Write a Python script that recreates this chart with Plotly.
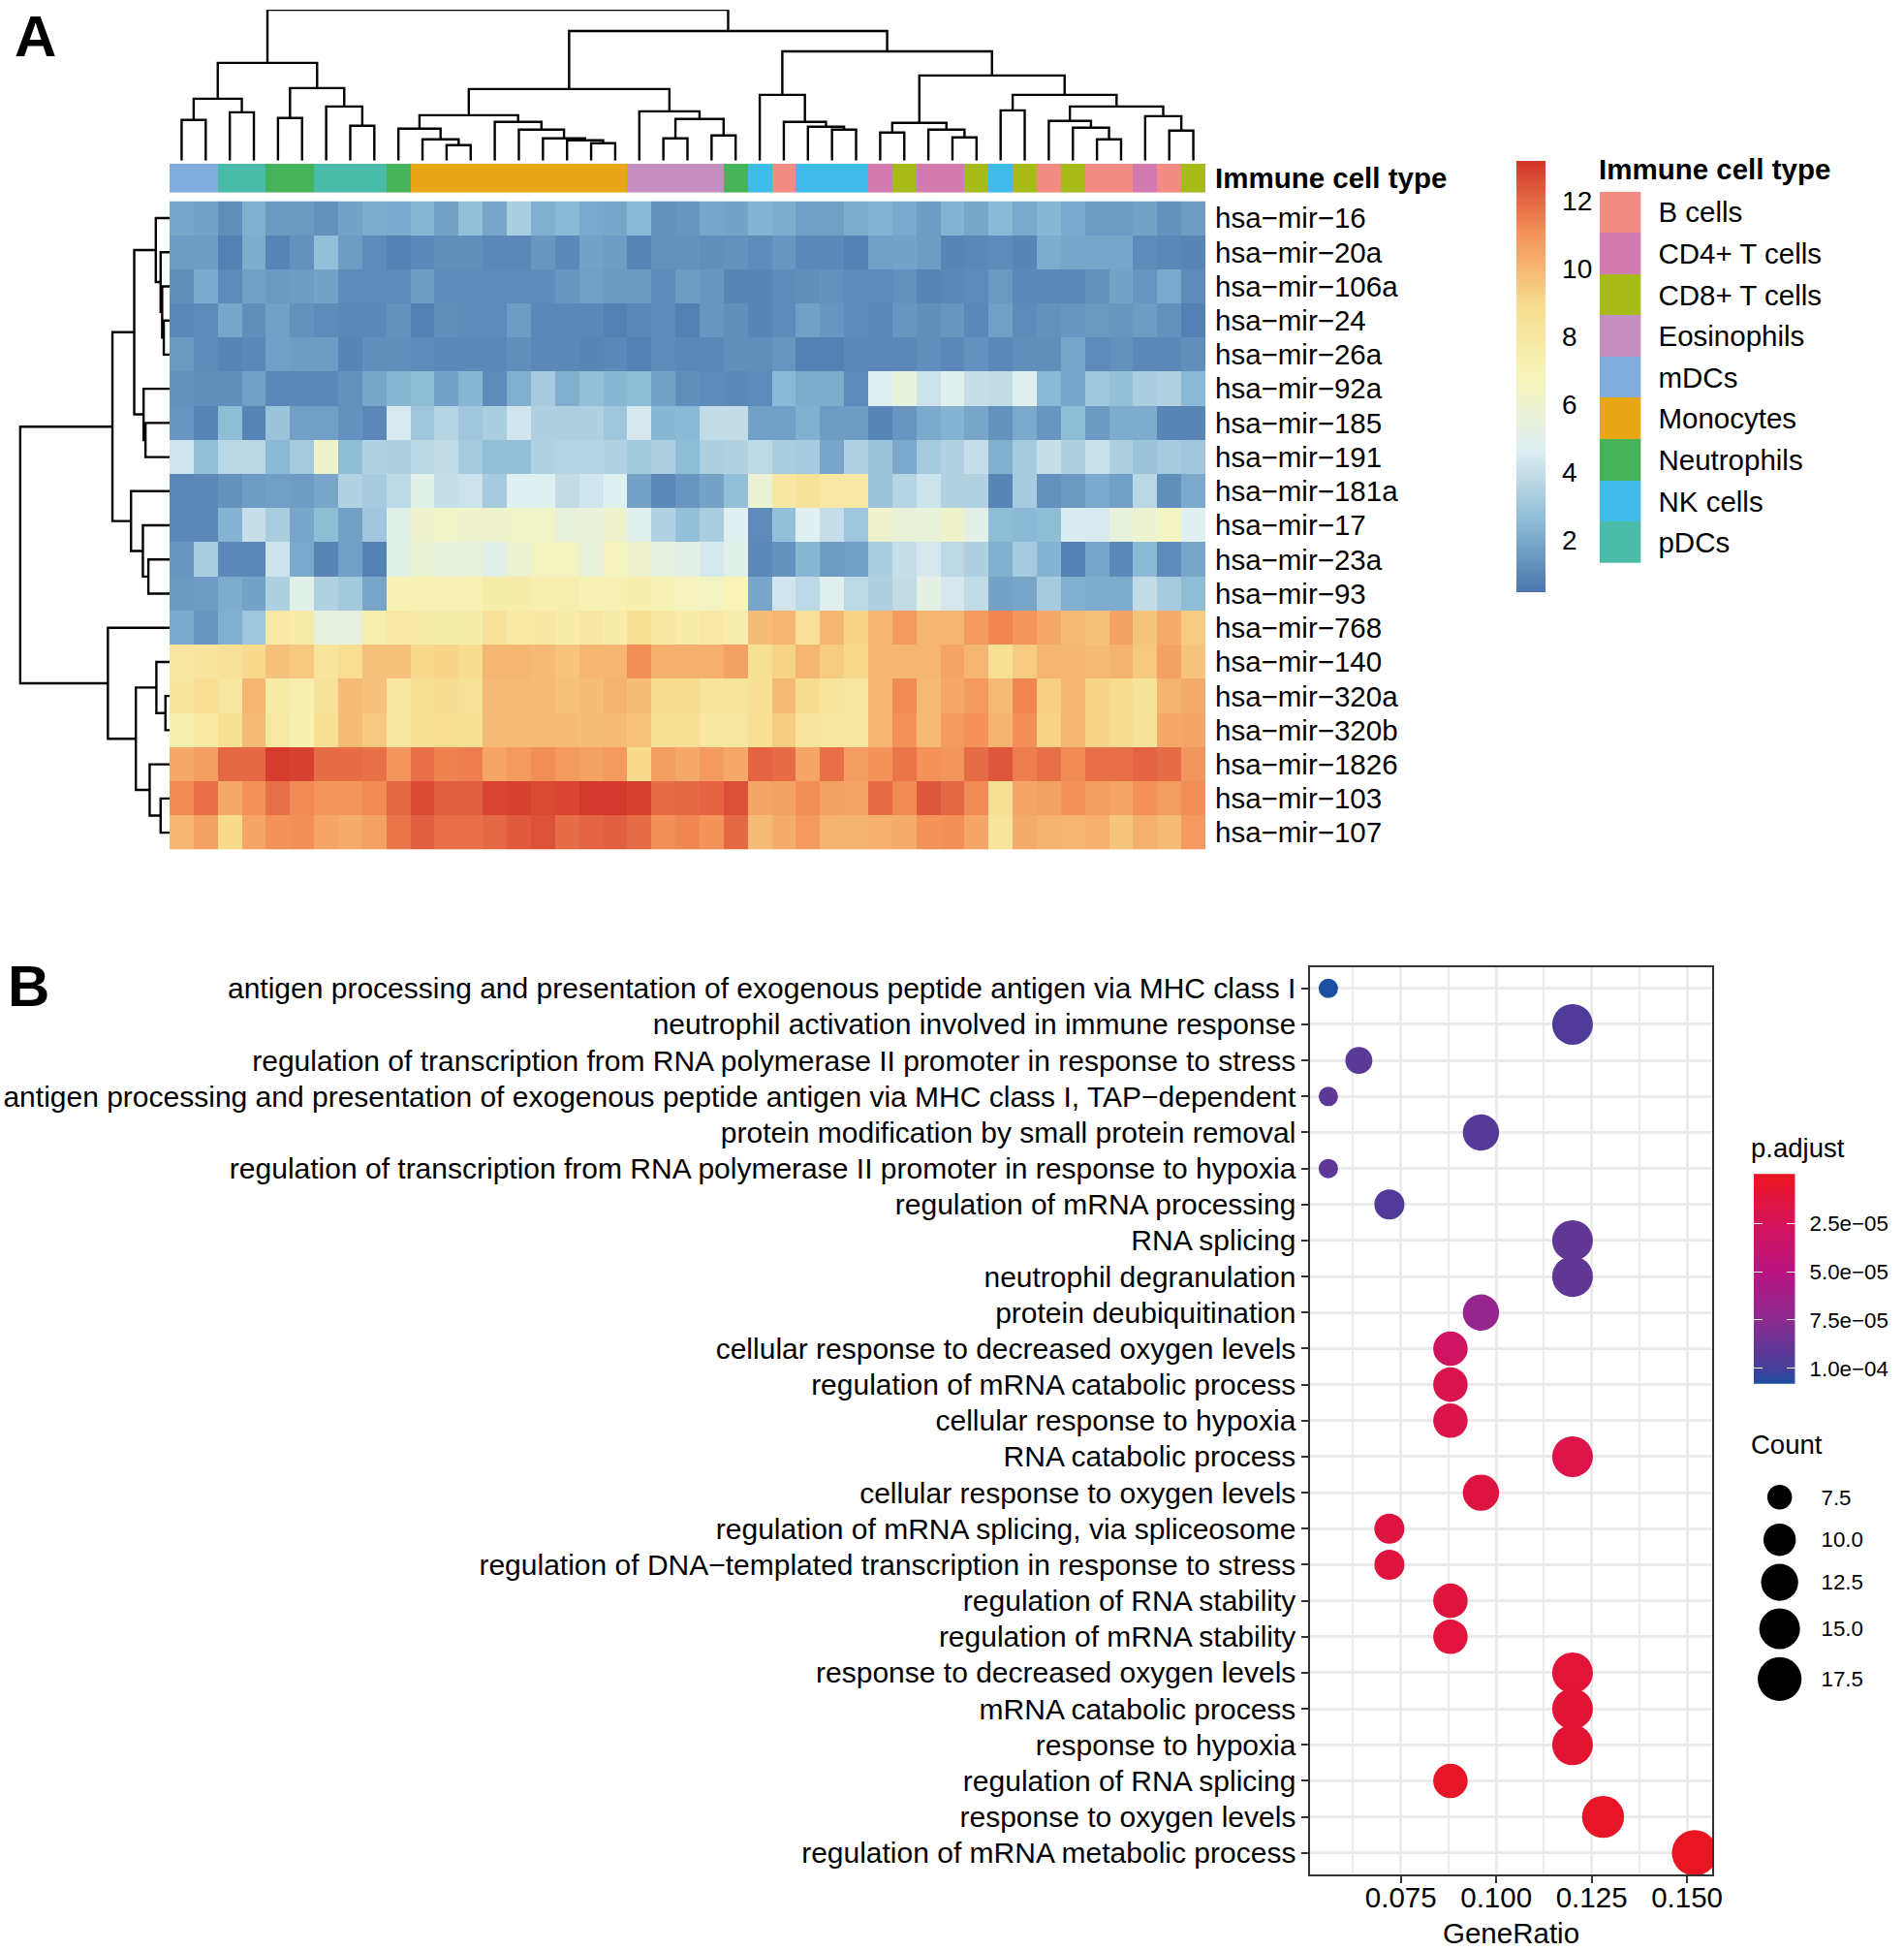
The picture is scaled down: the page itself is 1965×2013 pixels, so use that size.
"""Immune cell miRNA heatmap (A) and GO enrichment dot plot (B)."""
import numpy as np
import plotly.graph_objects as go

WIDTH, HEIGHT = 1965, 2013
FONT = "Liberation Sans"

# --- panel A data ---
mirnas = ["hsa−mir−16", "hsa−mir−20a", "hsa−mir−106a", "hsa−mir−24", "hsa−mir−26a",
          "hsa−mir−92a", "hsa−mir−185", "hsa−mir−191", "hsa−mir−181a", "hsa−mir−17",
          "hsa−mir−23a", "hsa−mir−93", "hsa−mir−768", "hsa−mir−140", "hsa−mir−320a",
          "hsa−mir−320b", "hsa−mir−1826", "hsa−mir−103", "hsa−mir−107"]

expression = [
    [1.9, 1.8, 1.2, 2.2, 1.5, 1.5, 1.3, 1.8, 2.1, 2.0, 2.4, 1.8, 2.7, 1.9, 3.3, 2.2, 2.5, 2.0, 1.9, 2.5, 1.3, 1.4,
     1.9, 1.8, 2.3, 2.1, 1.7, 1.7, 2.1, 2.3, 2.0, 1.6, 2.3, 1.9, 2.5, 2.0, 2.4, 2.0, 1.6, 1.6, 1.8, 1.3, 1.6],
    [1.6, 1.6, 0.8, 2.1, 0.9, 1.3, 2.7, 1.6, 1.1, 0.8, 1.0, 1.2, 1.2, 1.0, 1.0, 1.4, 1.0, 1.8, 1.6, 0.9, 1.3, 1.3,
     1.2, 1.3, 1.1, 1.4, 1.0, 1.0, 0.8, 1.7, 1.8, 1.6, 0.9, 1.0, 1.1, 0.9, 2.1, 1.9, 1.9, 1.9, 1.1, 1.0, 0.9],
    [1.2, 2.0, 1.1, 1.7, 1.5, 1.6, 1.8, 1.1, 1.1, 1.1, 1.6, 1.1, 1.1, 1.1, 1.1, 1.1, 1.4, 1.7, 1.5, 1.5, 1.1, 1.6,
     1.4, 0.9, 0.9, 1.1, 1.2, 1.3, 1.1, 1.1, 1.3, 0.9, 1.0, 1.1, 1.5, 1.0, 1.0, 1.0, 1.3, 1.8, 1.4, 2.0, 1.1],
    [1.0, 1.1, 1.9, 1.2, 1.7, 1.3, 1.1, 1.0, 1.0, 1.3, 0.8, 1.2, 1.1, 1.1, 1.6, 1.0, 1.0, 1.0, 0.8, 1.0, 1.1, 0.8,
     1.4, 1.2, 0.9, 1.1, 1.7, 1.4, 1.1, 1.0, 1.4, 1.2, 1.4, 1.0, 1.7, 1.1, 1.3, 1.4, 1.5, 1.4, 1.6, 1.3, 0.8],
    [1.5, 1.1, 0.9, 1.0, 1.7, 1.6, 1.6, 0.9, 1.2, 1.2, 1.1, 1.0, 1.0, 1.0, 1.2, 1.0, 1.0, 0.9, 1.0, 0.8, 1.1, 1.0,
     1.0, 1.2, 1.2, 1.4, 0.8, 0.8, 1.0, 1.0, 1.0, 1.2, 1.0, 1.3, 1.0, 1.2, 1.2, 1.9, 1.1, 1.3, 1.0, 1.0, 1.2],
    [1.3, 1.2, 1.2, 1.7, 1.0, 1.0, 1.0, 1.3, 1.9, 2.4, 2.6, 1.8, 2.4, 1.1, 2.2, 3.2, 2.2, 2.7, 2.4, 2.6, 1.8, 1.2,
     1.1, 1.0, 1.1, 2.5, 2.1, 2.1, 1.1, 4.7, 5.5, 4.2, 4.9, 4.0, 3.9, 4.9, 2.5, 1.9, 3.0, 2.7, 3.3, 3.5, 2.5],
    [1.4, 0.9, 2.6, 0.9, 2.9, 1.7, 1.7, 1.3, 1.0, 4.5, 3.0, 3.6, 3.0, 3.3, 4.3, 3.4, 3.4, 3.4, 3.0, 4.4, 2.4, 2.5,
     3.9, 3.9, 1.7, 1.7, 2.2, 1.6, 1.6, 0.9, 1.4, 2.0, 2.3, 1.9, 1.3, 2.0, 1.4, 2.6, 1.5, 2.1, 2.1, 0.9, 0.9],
    [4.3, 2.7, 3.7, 3.7, 2.5, 3.2, 6.2, 2.6, 3.5, 3.4, 3.7, 3.9, 3.2, 2.7, 2.7, 3.5, 3.6, 3.6, 3.5, 3.1, 3.4, 2.6,
     3.4, 3.5, 3.8, 3.3, 3.2, 1.9, 3.5, 2.9, 2.0, 3.2, 3.5, 4.0, 2.2, 3.2, 4.0, 3.4, 4.1, 3.4, 2.9, 3.2, 3.0],
    [1.0, 1.0, 1.3, 1.6, 1.7, 1.6, 1.9, 3.5, 3.2, 3.8, 5.0, 4.0, 4.2, 3.2, 4.8, 4.8, 3.9, 4.3, 4.8, 1.8, 1.0, 1.4,
     1.8, 2.7, 5.8, 8.0, 8.4, 7.8, 7.8, 2.9, 3.6, 4.2, 3.5, 3.5, 0.9, 3.2, 1.3, 1.5, 2.0, 1.7, 3.7, 1.2, 2.0],
    [1.0, 1.0, 2.3, 4.0, 3.3, 1.9, 2.6, 1.7, 3.0, 5.0, 6.0, 6.3, 6.0, 6.0, 6.3, 6.3, 5.5, 5.7, 6.0, 4.9, 3.5, 2.7,
     3.3, 4.8, 1.1, 2.7, 4.7, 4.0, 3.0, 6.0, 5.6, 5.6, 6.2, 5.1, 2.6, 2.5, 2.6, 4.6, 4.5, 5.5, 5.9, 6.4, 4.8],
    [1.4, 3.3, 1.0, 1.0, 4.2, 2.0, 0.9, 1.7, 0.8, 5.0, 5.8, 5.4, 5.5, 5.0, 5.9, 6.5, 6.5, 5.5, 6.6, 6.0, 5.3, 5.1,
     4.4, 5.0, 1.0, 1.3, 2.4, 1.6, 1.7, 3.3, 4.0, 4.4, 3.8, 3.4, 2.2, 3.2, 2.3, 0.8, 1.9, 1.0, 2.5, 1.1, 1.9],
    [1.5, 1.6, 2.1, 1.8, 3.4, 5.0, 3.5, 3.1, 1.9, 7.0, 7.1, 7.1, 7.1, 7.5, 7.6, 7.3, 7.3, 7.0, 7.1, 7.4, 7.0, 6.6,
     6.4, 6.9, 1.9, 4.3, 3.8, 4.9, 3.8, 3.4, 3.9, 5.2, 4.4, 3.9, 1.8, 1.9, 3.2, 2.2, 2.1, 2.1, 3.9, 3.2, 2.6],
    [2.0, 1.4, 2.2, 3.0, 7.8, 7.7, 5.4, 5.3, 7.3, 7.8, 7.6, 7.5, 7.6, 8.5, 7.9, 8.0, 7.6, 8.0, 7.6, 8.6, 8.0, 7.6,
     7.8, 7.4, 9.8, 10.0, 8.5, 10.0, 9.1, 10.0, 10.8, 10.0, 10.0, 10.8, 11.3, 10.9, 10.4, 9.9, 9.7, 10.6, 9.6, 10.3, 9.4],
    [8.1, 8.2, 8.5, 9.0, 9.7, 9.5, 8.2, 8.8, 9.7, 9.7, 9.0, 9.1, 8.9, 10.0, 10.0, 9.9, 9.6, 10.0, 10.0, 11.1, 10.2, 10.2,
     10.2, 10.6, 8.7, 9.2, 10.0, 9.4, 9.0, 10.0, 10.0, 10.0, 10.5, 10.0, 8.6, 9.4, 10.0, 10.0, 9.9, 10.1, 9.5, 10.6, 9.6],
    [8.2, 8.8, 8.1, 10.0, 7.7, 7.3, 8.4, 9.9, 9.7, 8.0, 8.6, 8.9, 8.5, 9.9, 9.9, 9.9, 9.7, 9.8, 10.1, 9.8, 8.9, 8.9,
     8.2, 8.2, 8.6, 9.9, 8.9, 8.2, 8.1, 10.0, 11.2, 9.9, 10.4, 10.8, 9.9, 11.3, 9.3, 10.0, 9.1, 8.9, 8.4, 10.1, 10.3],
    [7.3, 7.9, 8.7, 9.9, 7.8, 7.2, 8.7, 9.9, 9.5, 8.1, 8.6, 8.8, 8.6, 9.9, 9.9, 9.9, 9.9, 9.8, 9.9, 9.6, 8.6, 8.6,
     8.0, 8.1, 8.7, 9.4, 8.2, 8.1, 8.1, 10.0, 11.0, 9.9, 10.8, 11.0, 10.1, 11.1, 9.2, 10.0, 9.1, 8.9, 8.4, 10.4, 10.5],
    [10.4, 10.7, 12.0, 12.0, 13.0, 12.9, 11.9, 11.9, 11.8, 10.9, 11.8, 11.4, 11.5, 10.5, 10.8, 11.1, 10.8, 10.6, 10.8, 9.0, 10.7, 10.4,
     10.8, 10.4, 12.1, 11.9, 10.5, 11.8, 10.7, 11.0, 11.7, 11.0, 10.9, 11.9, 12.4, 11.5, 11.8, 11.2, 11.8, 11.8, 12.1, 11.9, 10.9],
    [11.2, 11.8, 10.4, 11.0, 11.8, 11.2, 10.9, 10.9, 11.2, 12.0, 12.7, 12.2, 12.2, 12.8, 12.9, 12.7, 12.8, 13.1, 13.1, 12.9, 11.9, 12.0,
     12.1, 12.6, 10.5, 10.6, 11.1, 10.6, 10.5, 11.9, 11.2, 12.4, 12.0, 11.2, 8.6, 10.5, 10.6, 11.0, 10.7, 10.5, 11.0, 10.7, 11.1],
    [10.0, 10.6, 9.0, 10.5, 11.0, 11.1, 10.5, 10.3, 10.6, 11.7, 12.2, 11.8, 11.8, 12.0, 12.3, 12.5, 11.9, 12.1, 12.2, 11.9, 11.1, 11.3,
     11.0, 12.0, 9.9, 10.3, 10.8, 10.1, 10.1, 10.2, 10.3, 11.0, 11.1, 10.5, 8.2, 10.3, 10.1, 10.0, 10.2, 9.6, 10.2, 9.9, 10.8],
]

cell_types = ["B cells", "CD4+ T cells", "CD8+ T cells", "Eosinophils", "mDCs",
              "Monocytes", "Neutrophils", "NK cells", "pDCs"]
cell_type_colors = ["#f18b84", "#d37ab0", "#a7bb18", "#c48fc0", "#82acdb",
                    "#e9a716", "#46b35a", "#41bce8", "#49bba8"]
# index into cell_types for every column of the heatmap
column_type = [4, 4, 8, 8, 6, 6, 8, 8, 8, 6, 5, 5, 5, 5, 5, 5, 5, 5, 5, 3, 3, 3, 3, 6,
               7, 0, 7, 7, 7, 1, 2, 1, 1, 2, 7, 2, 0, 2, 0, 0, 1, 0, 2]

# dendrograms, hclust style: -k is leaf k in display order, +k is merge step k
col_merge = [(-1, -2), (-3, -4), (1, 2), (-5, -6), (-8, -9), (-7, 5), (4, 6), (3, 7),
             (-12, -13), (-11, 9), (-10, 10), (-18, -19), (-17, 12), (-16, 13), (-15, 14),
             (-14, 15), (11, 16), (-21, -22), (-23, -24), (18, 19), (-20, 20), (17, 21),
             (-28, -29), (-27, 23), (-26, 24), (-25, 25), (-30, -31), (-33, -34), (-32, 28),
             (27, 29), (-35, -36), (-39, -40), (-38, 32), (-37, 33), (-42, -43), (-41, 35),
             (34, 36), (31, 37), (30, 38), (26, 39), (22, 40), (8, 41)]
col_height = [42, 50, 64, 44, 36, 56, 75, 101, 16, 22, 33, 18, 21, 23, 32, 40, 47, 23, 26,
              43, 51, 74, 32, 35, 40, 68, 29, 24, 32, 39, 52, 22, 34, 41, 31, 46, 56, 68,
              88, 113, 134, 156]
row_merge = [(-4, -5), (-3, 1), (-2, 2), (-1, 3), (-7, -8), (-6, 5), (4, 6), (-11, -12),
             (-10, 8), (-9, 9), (7, 10), (-15, -16), (-14, 12), (-18, -19), (-17, 14),
             (13, 15), (-13, 16), (11, 17)]
row_height = [6, 7.7, 9.3, 14.3, 25, 27, 36.7, 22, 27.7, 40, 59.3, 4.3, 13.7, 9.3, 20.7,
              35, 64, 155]

expression_ticks = [2, 4, 6, 8, 10, 12]
expression_min, expression_max = 0.46, 13.17

# --- panel B data ---
go_terms = [
    "antigen processing and presentation of exogenous peptide antigen via MHC class I",
    "neutrophil activation involved in immune response",
    "regulation of transcription from RNA polymerase II promoter in response to stress",
    "antigen processing and presentation of exogenous peptide antigen via MHC class I, TAP−dependent",
    "protein modification by small protein removal",
    "regulation of transcription from RNA polymerase II promoter in response to hypoxia",
    "regulation of mRNA processing",
    "RNA splicing",
    "neutrophil degranulation",
    "protein deubiquitination",
    "cellular response to decreased oxygen levels",
    "regulation of mRNA catabolic process",
    "cellular response to hypoxia",
    "RNA catabolic process",
    "cellular response to oxygen levels",
    "regulation of mRNA splicing, via spliceosome",
    "regulation of DNA−templated transcription in response to stress",
    "regulation of RNA stability",
    "regulation of mRNA stability",
    "response to decreased oxygen levels",
    "mRNA catabolic process",
    "response to hypoxia",
    "regulation of RNA splicing",
    "response to oxygen levels",
    "regulation of mRNA metabolic process",
]
gene_ratio = [0.056, 0.12, 0.064, 0.056, 0.096, 0.056, 0.072, 0.12, 0.12, 0.096, 0.088, 0.088, 0.088,
              0.12, 0.096, 0.072, 0.072, 0.088, 0.088, 0.12, 0.12, 0.12, 0.088, 0.128, 0.152]
gene_count = [7, 15, 8, 7, 12, 7, 9, 15, 15, 12, 11, 11, 11, 15, 12, 9, 9, 11, 11, 15, 15, 15, 11, 16, 19]
p_adjust = [1.08e-4, 9.6e-5, 9.2e-5, 9.2e-5, 9.4e-5, 9.1e-5, 9.5e-5, 9.0e-5, 9.0e-5, 7.0e-5, 3.0e-5,
            2.0e-5, 1.9e-5, 1.8e-5, 1.4e-5, 1.4e-5, 1.3e-5, 1.3e-5, 1.2e-5, 1.0e-5, 0.9e-5, 0.8e-5,
            0.3e-5, 0.3e-5, 0.05e-5]
ratio_ticks = [0.075, 0.1, 0.125, 0.15]
ratio_minor = [0.0625, 0.0875, 0.1125, 0.1375]
ratio_labels = ["0.075", "0.100", "0.125", "0.150"]
padj_ticks = [2.5e-5, 5e-5, 7.5e-5, 1e-4]
padj_labels = ["2.5e−05", "5.0e−05", "7.5e−05", "1.0e−04"]
count_key = [7.5, 10, 12.5, 15, 17.5]
count_labels = ["7.5", "10.0", "12.5", "15.0", "17.5"]

# --- colour scales ---
heat_scale = ["#4a75ae", "#8fbcd6", "#dfeff2", "#f7f5b8", "#f7dc90", "#f39159", "#d2352a"]
padj_scale = [[0, "#ea1520"], [0.24, "#d5135a"], [0.47, "#b81482"], [0.70, "#8a2b90"],
              [0.93, "#43409a"], [1, "#1a4fa3"]]
padj_min, padj_max = -5e-7, 1.08e-4


def xdom(left, right):
    return [left / WIDTH, right / WIDTH]


def ydom(top, bottom):
    return [1 - bottom / HEIGHT, 1 - top / HEIGHT]


def dendro_lines(merge, height):
    """Walk an hclust style merge table and return the bracket lines (leaf pos, height)."""
    pos, hs, xs, ys = [], [], [], []
    for (a, b), h in zip(merge, height):
        pa = -a - 0.5 if a < 0 else pos[a - 1]
        pb = -b - 0.5 if b < 0 else pos[b - 1]
        ha = 0 if a < 0 else hs[a - 1]
        hb = 0 if b < 0 else hs[b - 1]
        xs += [pa, pa, pb, pb, None]
        ys += [ha, h, h, hb, None]
        pos.append((pa + pb) / 2)
        hs.append(h)
    return xs, ys


def dot_size(count):
    # area scale of ggplot, 7 to 19 genes map on 20 to 47 px
    return 20 + 27 * np.sqrt((np.asarray(count) - 7) / 12)


type_scale = []
for i, c in enumerate(cell_type_colors):
    type_scale += [[i / len(cell_types), c], [(i + 1) / len(cell_types), c]]

fig = go.Figure()

# main heatmap
fig.add_trace(go.Heatmap(
    z=expression, y=mirnas, x=list(range(len(column_type))),
    colorscale=heat_scale, zmin=expression_min, zmax=expression_max,
    xaxis="x", yaxis="y",
    colorbar=dict(thickness=30, thicknessmode="pixels", len=445, lenmode="pixels",
                  x=1574 / WIDTH, xanchor="left", y=1 - 164 / HEIGHT, yanchor="top",
                  xpad=0, ypad=0, outlinewidth=0, tickvals=expression_ticks,
                  ticks="outside", ticklen=12, tickcolor="white",
                  tickfont=dict(family=FONT, size=28, color="black")),
))
# annotation bar
fig.add_trace(go.Heatmap(
    z=[column_type], y=["<b>Immune cell type</b>"], x=list(range(len(column_type))),
    colorscale=type_scale, zmin=-0.5, zmax=len(cell_types) - 0.5, showscale=False,
    xaxis="x2", yaxis="y2",
))
# dendrograms
cx, cy = dendro_lines(col_merge, col_height)
fig.add_trace(go.Scatter(x=cx, y=cy, mode="lines", line=dict(color="black", width=2.4),
                         cliponaxis=False, xaxis="x3", yaxis="y3", showlegend=False))
ry, rx = dendro_lines(row_merge, row_height)
fig.add_trace(go.Scatter(x=rx, y=ry, mode="lines", line=dict(color="black", width=2.4),
                         cliponaxis=False, xaxis="x4", yaxis="y4", showlegend=False))
# cell type legend swatches
fig.add_trace(go.Heatmap(
    z=[[i] for i in range(len(cell_types))], y=cell_types,
    colorscale=type_scale, zmin=-0.5, zmax=len(cell_types) - 0.5, showscale=False,
    xaxis="x5", yaxis="y5",
))
# dot plot
fig.add_trace(go.Scatter(
    x=gene_ratio, y=go_terms, mode="markers",
    marker=dict(size=dot_size(gene_count), color=p_adjust, colorscale=padj_scale,
                cmin=padj_min, cmax=padj_max, line=dict(width=0), opacity=1),
    xaxis="x6", yaxis="y6", showlegend=False,
))
# p.adjust colour ramp
ramp = np.linspace(padj_min, padj_max, 120)
fig.add_trace(go.Heatmap(
    z=ramp.reshape(-1, 1), y=ramp, x=[0], colorscale=padj_scale, zmin=padj_min, zmax=padj_max,
    showscale=False, xaxis="x7", yaxis="y7",
))
# count key, rows sit in page pixels as the key sizes push them apart
key_rows = [1545, 1589, 1633, 1681, 1733]
fig.add_trace(go.Scatter(
    x=[0] * len(count_key), y=key_rows, mode="markers",
    marker=dict(size=dot_size(count_key), color="black", line=dict(width=0), opacity=1),
    xaxis="x8", yaxis="y8", showlegend=False,
))

text_font = dict(family=FONT, size=29.5, color="black")
term_font = dict(family=FONT, size=30, color="black")
small_font = dict(family=FONT, size=22.3, color="black")

fig.update_layout(
    width=WIDTH, height=HEIGHT, margin=dict(l=0, r=0, t=0, b=0),
    paper_bgcolor="white", plot_bgcolor="white", showlegend=False,
    font=dict(family=FONT, color="black"),
    xaxis=dict(domain=xdom(176, 1251), range=[-0.5, 42.5], visible=False),
    yaxis=dict(domain=ydom(205.7, 876), anchor="x", side="right", autorange="reversed",
               showgrid=False, zeroline=False, ticks="", ticklabelstandoff=9, tickfont=text_font),
    xaxis2=dict(domain=xdom(176, 1251), range=[-0.5, 42.5], visible=False),
    yaxis2=dict(domain=ydom(167, 197), anchor="x2", side="right", showgrid=False, zeroline=False,
                ticks="", ticklabelstandoff=9, tickfont=text_font),
    xaxis3=dict(domain=xdom(176, 1251), range=[0, 43], visible=False),
    yaxis3=dict(domain=ydom(8, 164), range=[0, 156], visible=False),
    xaxis4=dict(domain=xdom(8, 176), range=[168, 0], visible=False),
    yaxis4=dict(domain=ydom(205.7, 876), range=[19, 0], visible=False),
    xaxis5=dict(domain=xdom(1660, 1703), visible=False),
    yaxis5=dict(domain=ydom(196, 580), anchor="x5", side="right", autorange="reversed",
                showgrid=False, zeroline=False, ticks="", ticklabelstandoff=17, tickfont=text_font),
    xaxis6=dict(domain=xdom(1360, 1777), range=[0.0513, 0.1566], anchor="y6",
                tickvals=ratio_ticks, ticktext=ratio_labels, tickfont=text_font,
                ticks="outside", ticklen=7, tickwidth=2, tickcolor="#333333", ticklabelstandoff=-11,
                showline=True, linecolor="#333333", linewidth=2, mirror=True,
                showgrid=True, gridcolor="#ebebeb", gridwidth=3, zeroline=False,
                minor=dict(tickvals=ratio_minor, showgrid=True, gridcolor="#ebebeb", gridwidth=1.5, ticks="")),
    yaxis6=dict(domain=ydom(997, 1935), anchor="x6", type="category", categoryorder="array",
                categoryarray=go_terms, range=[24.6, -0.6], tickfont=term_font,
                ticks="outside", ticklen=7, tickwidth=2, tickcolor="#333333",
                showline=True, linecolor="#333333", linewidth=2, mirror=True,
                showgrid=True, gridcolor="#ebebeb", gridwidth=3, zeroline=False),
    xaxis7=dict(domain=xdom(1820, 1863), visible=False, anchor="y7"),
    yaxis7=dict(domain=ydom(1211, 1428), anchor="x7", side="right", range=[padj_max, padj_min],
                tickvals=padj_ticks, ticktext=padj_labels, tickfont=small_font,
                ticks="inside", ticklen=9, tickwidth=1, tickcolor="white", mirror="ticks",
                ticklabelstandoff=14, showgrid=False, zeroline=False, showline=False),
    xaxis8=dict(domain=xdom(1820, 1874), range=[-1, 1], visible=False, anchor="y8"),
    yaxis8=dict(domain=ydom(1520, 1760), anchor="x8", side="right", range=[1760, 1520],
                tickvals=key_rows, ticktext=count_labels, tickfont=small_font,
                ticks="", ticklabelstandoff=15, showgrid=False, zeroline=False),
    annotations=[
        dict(text="<b>A</b>", x=13, y=36, xanchor="left", font=dict(family=FONT, size=60, color="black")),
        dict(text="<b>B</b>", x=6, y=1017, xanchor="left", font=dict(family=FONT, size=60, color="black")),
        dict(text="<b>Immune cell type</b>", x=1657, y=173, xanchor="left",
             font=dict(family=FONT, size=29.5, color="black")),
        dict(text="p.adjust", x=1815, y=1184, xanchor="left", font=dict(family=FONT, size=27.5, color="black")),
        dict(text="Count", x=1815, y=1491, xanchor="left", font=dict(family=FONT, size=27.5, color="black")),
        dict(text="GeneRatio", x=1568.5, y=1995, xanchor="center", font=dict(family=FONT, size=29.5, color="black")),
    ],
)
# annotations are placed in page pixels, convert them to paper fractions
for ann in fig.layout.annotations:
    ann.update(xref="paper", yref="paper", x=ann.x / WIDTH, y=1 - ann.y / HEIGHT,
               yanchor="middle", showarrow=False)

# drop the browser's default body margin so the figure fills the window exactly
fig.write_html("out.html", post_script="document.body.style.margin = '0';",
               config={"displayModeBar": False})
